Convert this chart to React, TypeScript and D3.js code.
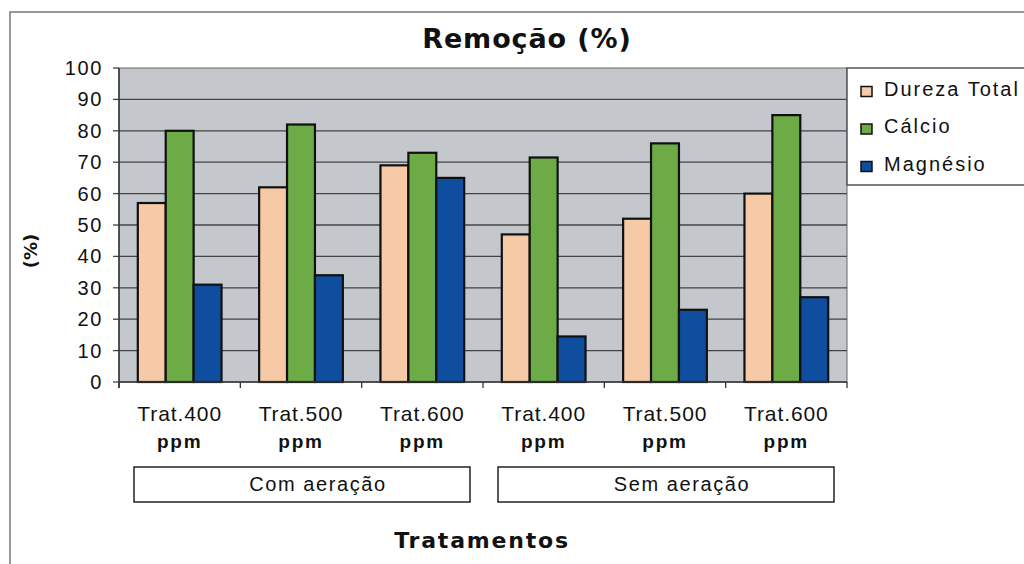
import React from "react";
import * as d3 from "d3";

const categories = ["Trat.400", "Trat.500", "Trat.600", "Trat.400", "Trat.500", "Trat.600"];
const groups = ["Com aeração", "Sem aeração"];
const seriesNames = ["Dureza Total", "Cálcio", "Magnésio"];
const durezaTotal = [57, 62, 69, 47, 52, 60];
const calcio = [80, 82, 73, 71.5, 76, 85];
const magnesio = [31, 34, 65, 14.5, 23, 27];
const yTicks = [0, 10, 20, 30, 40, 50, 60, 70, 80, 90, 100];
const colors = ["#f6caa6", "#6cab46", "#0f4e9f"];

export default function App() {
  const W = 1024, H = 564;
  const left = 119, right = 847, top = 68, bottom = 382;
  const font = "'Liberation Sans', Arial, sans-serif";
  const boldFont = "'DejaVu Sans', 'Liberation Sans', Arial, sans-serif";
  const x = d3.scaleBand<number>().domain(d3.range(categories.length)).range([left, right]).paddingInner(0.31).paddingOuter(0.155);
  const xc = d3.scaleBand<number>().domain(d3.range(categories.length)).range([left, right]);
  const xs = d3.scaleBand<number>().domain([0, 1, 2]).range([0, x.bandwidth()]);
  const y = d3.scaleLinear().domain([0, 100]).range([bottom, top]);
  const series = [durezaTotal, calcio, magnesio];
  const groupW = (right - left) / groups.length;

  return (
    <svg width={W} height={H} style={{ position: "absolute", left: 0, top: 0, background: "#fff" }}>
      <rect x={10} y={12} width={1030} height={600} fill="#fff" stroke="#777" strokeWidth={1.5} />
      <text x={527} y={48} textAnchor="middle" fontFamily={boldFont} fontWeight="bold" fontSize={27} letterSpacing={0.9} fill="#111">Remoção (%)</text>
      <rect x={left} y={top} width={right - left} height={bottom - top} fill="#c4c7cb" stroke="#666" strokeWidth={1} />
      {yTicks.map((t) => (
        <g key={t}>
          {t > 0 && t < 100 && <line x1={left} x2={right} y1={y(t)} y2={y(t)} stroke="#444" strokeWidth={1.3} />}
          <line x1={left - 6} x2={left} y1={y(t)} y2={y(t)} stroke="#444" strokeWidth={1.3} />
          <text x={103} y={y(t) + 7} textAnchor="end" fontFamily={font} fontSize={20} letterSpacing={1.6} fill="#111">{t}</text>
        </g>
      ))}
      {series.map((vals, si) =>
        vals.map((v, ci) => (
          <rect key={si + "-" + ci} x={(x(ci) as number) + (xs(si) as number)} y={y(v)} width={xs.bandwidth()} height={bottom - y(v)} fill={colors[si]} stroke="#111" strokeWidth={2.2} />
        ))
      )}
      <line x1={left} x2={left} y1={top} y2={bottom + 6} stroke="#333" strokeWidth={1.5} />
      <line x1={left} x2={right} y1={bottom} y2={bottom} stroke="#333" strokeWidth={1.5} />
      {d3.range(categories.length + 1).map((i) => (
        <line key={i} x1={left + i * xc.bandwidth()} x2={left + i * xc.bandwidth()} y1={bottom} y2={bottom + 6} stroke="#333" strokeWidth={1.3} />
      ))}
      {categories.map((c, i) => {
        const cx = (xc(i) as number) + xc.bandwidth() / 2;
        return (
          <g key={i}>
            <text x={cx} y={421} textAnchor="middle" fontFamily={font} fontSize={21} letterSpacing={0.9} fill="#111">{c}</text>
            <text x={cx} y={448} textAnchor="middle" fontFamily={font} fontSize={19} fontWeight="bold" letterSpacing={1.8} fill="#111">ppm</text>
          </g>
        );
      })}
      {groups.map((g, gi) => {
        const gx0 = left + gi * groupW + 15;
        const gx1 = left + (gi + 1) * groupW - 13;
        return (
          <g key={g}>
            <rect x={gx0} y={467} width={gx1 - gx0} height={35} fill="#fff" stroke="#222" strokeWidth={1.5} />
            <text x={(gx0 + gx1) / 2 + 16} y={491} textAnchor="middle" fontFamily={font} fontSize={20} letterSpacing={1.6} fill="#111">{g}</text>
          </g>
        );
      })}
      <text x={482} y={548} textAnchor="middle" fontFamily={boldFont} fontWeight="bold" fontSize={22} letterSpacing={1.8} fill="#111">Tratamentos</text>
      <text transform="translate(37,251) rotate(-90)" textAnchor="middle" fontFamily={boldFont} fontWeight="bold" fontSize={18} fill="#111">(%)</text>
      <rect x={847} y={68} width={200} height={117} fill="#fff" stroke="#555" strokeWidth={1.5} />
      {seriesNames.map((n, i) => (
        <g key={n}>
          <rect x={861} y={86.5 + i * 37.5} width={11} height={10} fill={colors[i]} stroke="#111" strokeWidth={1.5} />
          <text x={884} y={95.5 + i * 37.5} fontFamily={font} fontSize={20} letterSpacing={2} fill="#111">{n}</text>
        </g>
      ))}
    </svg>
  );
}
